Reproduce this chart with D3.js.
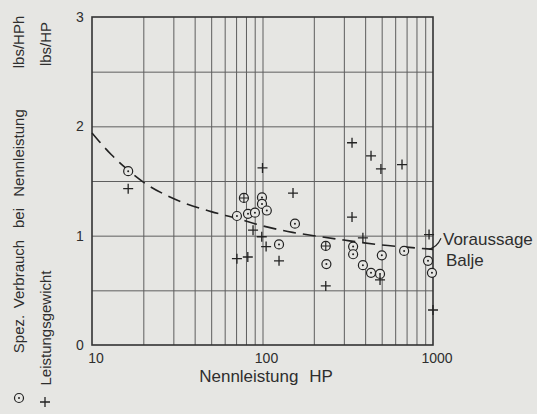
<!DOCTYPE html>
<html>
<head>
<meta charset="utf-8">
<script src="https://cdn.jsdelivr.net/npm/d3@7"></script>
<style>
  html, body { margin: 0; padding: 0; background: #e6e6e3; }
  svg { display: block; }
  .grid line { stroke: #5e5e5e; stroke-width: 1; }
  .grid path { display: none; }
</style>
</head>
<body>
<svg id="chart" width="537" height="414"></svg>
<script>
// Spez. Verbrauch (circles)
const circleHP = [16.3, 70.8, 82.2, 90.3, 99.3, 99.3, 106, 155, 125, 237, 340, 340, 388, 433, 489, 501, 677, 935, 986];
const circleVal = [1.59, 1.18, 1.20, 1.21, 1.35, 1.29, 1.23, 1.11, 0.92, 0.74, 0.90, 0.83, 0.73, 0.66, 0.65, 0.82, 0.86, 0.77, 0.66];

// Leistungsgewicht (crosses)
const plusHP = [16.3, 100, 88, 99, 105, 70.8, 82, 125, 151, 235, 335, 335, 433, 495, 658, 388, 489, 948, 1000];
const plusVal = [1.43, 1.62, 1.05, 0.99, 0.90, 0.79, 0.805, 0.77, 1.39, 0.54, 1.85, 1.17, 1.73, 1.61, 1.65, 0.98, 0.595, 1.01, 0.32];

// both markers on the same spot
const bothHP = [77.8, 235];
const bothVal = [1.345, 0.906];

// Voraussage Balje (dashed curve)
const curveHP = [10, 13, 16, 20, 30, 50, 70, 100, 150, 200, 300, 500, 700, 1000];
const curveVal = [1.94, 1.74, 1.61, 1.49, 1.34, 1.22, 1.16, 1.09, 1.03, 1.0, 0.96, 0.915, 0.895, 0.875];

const xTicks = [10, 100, 1000];
const yTicks = [0, 1, 2, 3];
const xGrid = [20, 30, 40, 50, 60, 70, 80, 90, 100, 200, 300, 400, 500, 600, 700, 800, 900];
const yGrid = [0.5, 1, 1.5, 2, 2.5];

const ink = "#2e2e2e";
const font = "'Liberation Sans', Arial, sans-serif";

const svg = d3.select("#chart");
const marginLeft = 92, marginRight = 104, marginTop = 17, marginBottom = 69;
const width = 537, height = 414;

const x = d3.scaleLog()
    .domain([10, 1000])
    .range([marginLeft, width - marginRight]);

const y = d3.scaleLinear()
    .domain([0, 3])
    .range([height - marginBottom, marginTop]);

// grid lines
svg.append("g")
    .attr("class", "grid")
    .attr("transform", `translate(0,${height - marginBottom})`)
    .call(d3.axisBottom(x)
        .tickValues(xGrid)
        .tickSize(-(height - marginBottom - marginTop))
        .tickFormat(""));

svg.append("g")
    .attr("class", "grid")
    .attr("transform", `translate(${marginLeft},0)`)
    .call(d3.axisLeft(y)
        .tickValues(yGrid)
        .tickSize(-(width - marginRight - marginLeft))
        .tickFormat(""));

// frame
svg.append("rect")
    .attr("x", x(10))
    .attr("y", y(3))
    .attr("width", x(1000) - x(10))
    .attr("height", y(0) - y(3))
    .attr("fill", "none")
    .attr("stroke", "#333")
    .attr("stroke-width", 1.6);

// tick labels
svg.append("g")
    .selectAll("text")
    .data(xTicks)
    .join("text")
    .attr("x", d => x(d) + 4)
    .attr("y", height - marginBottom + 18)
    .attr("text-anchor", "middle")
    .attr("fill", ink)
    .style("font-family", font)
    .style("font-size", "14px")
    .text(d => d);

svg.append("g")
    .selectAll("text")
    .data(yTicks)
    .join("text")
    .attr("x", 80)
    .attr("y", d => y(d))
    .attr("dy", "0.36em")
    .attr("text-anchor", "middle")
    .attr("fill", ink)
    .style("font-family", font)
    .style("font-size", "14px")
    .text(d => d);

// x axis title
svg.append("text")
    .attr("x", 266)
    .attr("y", 382)
    .attr("text-anchor", "middle")
    .attr("fill", ink)
    .style("font-family", font)
    .style("font-size", "17px")
    .style("word-spacing", "6px")
    .text("Nennleistung HP");

// y axis titles, word by word (wide spaced lettering)
const yTitle1 = [["Spez.", 334], ["Verbrauch", 274], ["bei", 218], ["Nennleistung", 153], ["lbs/HPh", 42]];
const yTitle2 = [["Leistungsgewicht", 328], ["lbs/HP", 44]];

svg.append("g")
    .selectAll("text")
    .data(yTitle1)
    .join("text")
    .attr("transform", d => `translate(24,${d[1]}) rotate(-90)`)
    .attr("text-anchor", "middle")
    .attr("fill", ink)
    .style("font-family", font)
    .style("font-size", "15px")
    .text(d => d[0]);

svg.append("g")
    .selectAll("text")
    .data(yTitle2)
    .join("text")
    .attr("transform", d => `translate(51,${d[1]}) rotate(-90)`)
    .attr("text-anchor", "middle")
    .attr("fill", ink)
    .style("font-family", font)
    .style("font-size", "15px")
    .text(d => d[0]);

// dashed prediction curve
const curve = curveHP.map((d, i) => [d, curveVal[i]]);
const line = d3.line()
    .x(d => x(d[0]))
    .y(d => y(d[1]))
    .curve(d3.curveMonotoneX);

svg.append("path")
    .datum(curve)
    .attr("d", line)
    .attr("fill", "none")
    .attr("stroke", "#222")
    .attr("stroke-width", 1.6)
    .attr("stroke-dasharray", "13,7");

// leader line + label
const lx = x(1000) - 4, ly = y(curveVal[curveVal.length - 1]);
svg.append("path")
    .attr("d", `M${lx},${ly} Q${lx + 8},${ly - 2} ${lx + 12},${ly - 11}`)
    .attr("fill", "none")
    .attr("stroke", "#222")
    .attr("stroke-width", 1.2);

svg.append("text")
    .attr("x", 443)
    .attr("y", 245)
    .attr("fill", ink)
    .style("font-family", font)
    .style("font-size", "17px")
    .text("Voraussage");
svg.append("text")
    .attr("x", 446)
    .attr("y", 266)
    .attr("fill", ink)
    .style("font-family", font)
    .style("font-size", "17px")
    .text("Balje");

// markers
const circles = circleHP.map((d, i) => ({ hp: d, v: circleVal[i] }));
const pluses = plusHP.map((d, i) => ({ hp: d, v: plusVal[i] }));
const both = bothHP.map((d, i) => ({ hp: d, v: bothVal[i] }));
const r = 4.5, arm = 5;

function ring(g, cx, cy, dot) {
    g.append("circle")
        .attr("cx", cx).attr("cy", cy)
        .attr("r", r)
        .attr("fill", "#e6e6e3")
        .attr("stroke", "#222")
        .attr("stroke-width", 1.2);
    if (dot) g.append("circle").attr("cx", cx).attr("cy", cy).attr("r", 1).attr("fill", "#222");
}
const cross = (cx, cy, a) => `M${cx - a},${cy}H${cx + a}M${cx},${cy - a}V${cy + a}`;

const markG = svg.append("g");
circles.forEach(d => ring(markG, x(d.hp), y(d.v), true));
both.forEach(d => ring(markG, x(d.hp), y(d.v), false));

markG.append("g")
    .selectAll("path")
    .data(both)
    .join("path")
    .attr("d", d => cross(x(d.hp), y(d.v), r))
    .attr("stroke", "#222")
    .attr("stroke-width", 1.1);

markG.append("g")
    .selectAll("path")
    .data(pluses)
    .join("path")
    .attr("d", d => cross(x(d.hp), y(d.v), arm))
    .attr("stroke", "#222")
    .attr("stroke-width", 1.3);

// legend symbols in front of the axis titles
const legG = svg.append("g");
ring(legG, 19, 398, true);
legG.append("path")
    .attr("d", cross(45, 402, arm))
    .attr("stroke", "#222")
    .attr("stroke-width", 1.3);
</script>
</body>
</html>
